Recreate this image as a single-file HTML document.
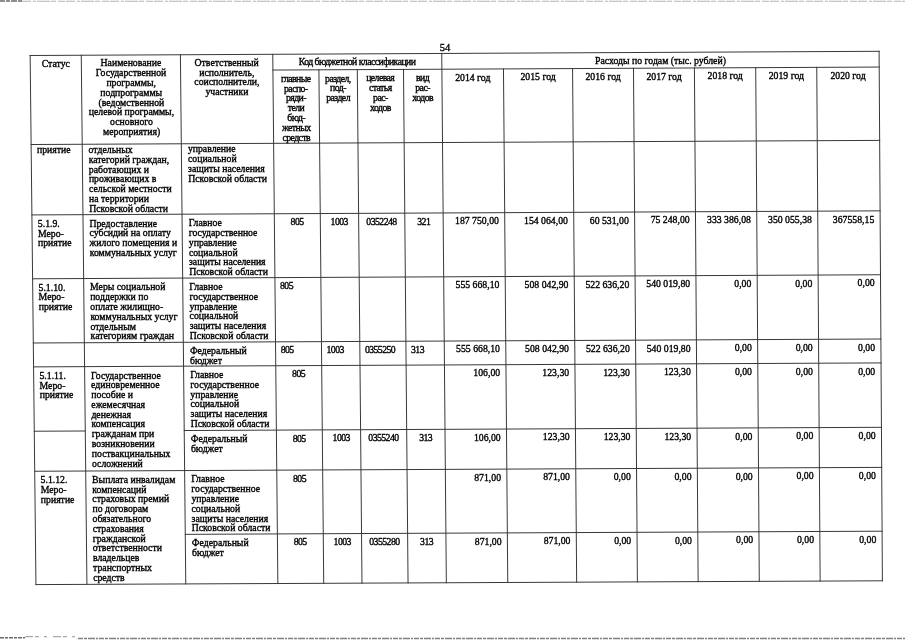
<!DOCTYPE html>
<html><head><meta charset="utf-8"><style>
html,body{margin:0;padding:0;background:#fff;}
body{width:905px;height:640px;overflow:hidden;position:relative;}
#pg{position:absolute;left:0;top:0;width:905px;height:640px;filter:grayscale(1);}
.t{position:absolute;font-family:"Liberation Serif",serif;color:#000;white-space:nowrap;-webkit-text-stroke:0.35px #000;}
svg{position:absolute;left:0;top:0;}
</style></head><body>
<svg width="905" height="640" style="position:absolute;left:0;top:0">
<line x1="0" y1="1.0" x2="22" y2="1.0" stroke="#6a6a6a" stroke-width="1.4" stroke-dasharray="5 1 4 1 6 1"/>
<line x1="22" y1="1.2" x2="905" y2="1.2" stroke="#b4b4b4" stroke-width="1.1" stroke-dasharray="9 2 3 1 13 1 5 2 7 1"/>
<line x1="0" y1="637.8" x2="25" y2="637.8" stroke="#6a6a6a" stroke-width="1.4" stroke-dasharray="4 1 3 1"/>
<line x1="25" y1="636.6" x2="78" y2="636.6" stroke="#aaa" stroke-width="1.1" stroke-dasharray="8 2 4 5 3 6"/>
<line x1="78" y1="638.5" x2="905" y2="638.5" stroke="#808080" stroke-width="1.5" stroke-dasharray="5 1 3 1 7 1 2 1"/>
</svg>
<div id="pg">
<svg width="905" height="640"><g stroke="#383838" stroke-width="1.0" stroke-linecap="square"><line x1="30.15" y1="55.50" x2="879.10" y2="51.30"/><line x1="35.96" y1="584.60" x2="882.40" y2="580.80"/><line x1="30.15" y1="55.50" x2="35.96" y2="584.60"/><line x1="879.10" y1="51.30" x2="882.40" y2="580.80"/><line x1="272.92" y1="70.05" x2="879.20" y2="67.06"/><line x1="31.13" y1="144.52" x2="879.66" y2="140.39"/><line x1="31.90" y1="214.93" x2="880.09" y2="210.85"/><line x1="32.60" y1="278.78" x2="880.49" y2="274.75"/><line x1="33.30" y1="342.99" x2="880.89" y2="339.01"/><line x1="33.57" y1="366.88" x2="881.04" y2="362.91"/><line x1="34.71" y1="471.26" x2="881.70" y2="467.38"/><line x1="34.27" y1="431.22" x2="85.28" y2="430.99"/><line x1="184.22" y1="430.53" x2="881.45" y2="427.31"/><line x1="185.27" y1="534.35" x2="882.09" y2="531.19"/><line x1="81.26" y1="55.25" x2="86.92" y2="584.37"/><line x1="180.41" y1="54.76" x2="185.77" y2="583.93"/><line x1="272.77" y1="54.30" x2="277.86" y2="583.51"/><line x1="441.74" y1="53.46" x2="446.34" y2="582.76"/><line x1="318.91" y1="69.82" x2="323.72" y2="583.31"/><line x1="357.30" y1="69.63" x2="361.99" y2="583.14"/><line x1="403.49" y1="69.40" x2="408.05" y2="582.93"/><line x1="503.48" y1="68.91" x2="507.76" y2="582.48"/><line x1="572.58" y1="68.57" x2="576.66" y2="582.17"/><line x1="633.49" y1="68.27" x2="637.40" y2="581.90"/><line x1="694.41" y1="67.97" x2="698.14" y2="581.63"/><line x1="755.73" y1="67.67" x2="759.29" y2="581.35"/><line x1="816.76" y1="67.37" x2="820.14" y2="581.08"/></g></svg>
<div class="t" style="top:59.02px;font-size:9.75px;line-height:9.8px;left:-44.17px;width:200px;text-align:center;">Статус</div><div class="t" style="top:58.24px;font-size:9.75px;line-height:9.8px;left:30.95px;width:200px;text-align:center;">Наименование</div><div class="t" style="top:68.07px;font-size:9.75px;line-height:9.8px;left:31.05px;width:200px;text-align:center;">Государственной</div><div class="t" style="top:77.90px;font-size:9.75px;line-height:9.8px;left:31.15px;width:200px;text-align:center;">программы,</div><div class="t" style="top:87.73px;font-size:9.75px;line-height:9.8px;left:31.26px;width:200px;text-align:center;">подпрограммы</div><div class="t" style="top:97.55px;font-size:9.75px;line-height:9.8px;left:31.36px;width:200px;text-align:center;">(ведомственной</div><div class="t" style="top:107.37px;font-size:9.75px;line-height:9.8px;left:31.46px;width:200px;text-align:center;">целевой программы,</div><div class="t" style="top:117.20px;font-size:9.75px;line-height:9.8px;left:31.56px;width:200px;text-align:center;">основного</div><div class="t" style="top:127.02px;font-size:9.75px;line-height:9.8px;left:31.67px;width:200px;text-align:center;">мероприятия)</div><div class="t" style="top:57.77px;font-size:9.75px;line-height:9.8px;left:126.70px;width:200px;text-align:center;">Ответственный</div><div class="t" style="top:67.60px;font-size:9.75px;line-height:9.8px;left:126.80px;width:200px;text-align:center;">исполнитель,</div><div class="t" style="top:77.43px;font-size:9.75px;line-height:9.8px;left:126.89px;width:200px;text-align:center;">соисполнители,</div><div class="t" style="top:87.26px;font-size:9.75px;line-height:9.8px;left:126.99px;width:200px;text-align:center;">участники</div><div class="t" style="top:57.13px;font-size:9.75px;line-height:9.8px;letter-spacing:-0.55px;left:257.35px;width:200px;text-align:center;text-indent:-0.55px;">Код бюджетной классификации</div><div class="t" style="top:73.78px;font-size:9.75px;line-height:9.8px;letter-spacing:-0.55px;left:196.03px;width:200px;text-align:center;text-indent:-0.55px;">главные</div><div class="t" style="top:83.61px;font-size:9.75px;line-height:9.8px;letter-spacing:-0.55px;left:196.12px;width:200px;text-align:center;text-indent:-0.55px;">распо-</div><div class="t" style="top:93.43px;font-size:9.75px;line-height:9.8px;letter-spacing:-0.55px;left:196.21px;width:200px;text-align:center;text-indent:-0.55px;">ряди-</div><div class="t" style="top:103.26px;font-size:9.75px;line-height:9.8px;letter-spacing:-0.55px;left:196.31px;width:200px;text-align:center;text-indent:-0.55px;">тели</div><div class="t" style="top:113.08px;font-size:9.75px;line-height:9.8px;letter-spacing:-0.55px;left:196.40px;width:200px;text-align:center;text-indent:-0.55px;">бюд-</div><div class="t" style="top:122.91px;font-size:9.75px;line-height:9.8px;letter-spacing:-0.55px;left:196.49px;width:200px;text-align:center;text-indent:-0.55px;">жетных</div><div class="t" style="top:132.73px;font-size:9.75px;line-height:9.8px;letter-spacing:-0.55px;left:196.59px;width:200px;text-align:center;text-indent:-0.55px;">средств</div><div class="t" style="top:73.57px;font-size:9.75px;line-height:9.8px;letter-spacing:-0.55px;left:238.21px;width:200px;text-align:center;text-indent:-0.55px;">раздел,</div><div class="t" style="top:83.40px;font-size:9.75px;line-height:9.8px;letter-spacing:-0.55px;left:238.30px;width:200px;text-align:center;text-indent:-0.55px;">под-</div><div class="t" style="top:93.23px;font-size:9.75px;line-height:9.8px;letter-spacing:-0.55px;left:238.39px;width:200px;text-align:center;text-indent:-0.55px;">раздел</div><div class="t" style="top:73.36px;font-size:9.75px;line-height:9.8px;letter-spacing:-0.55px;left:280.50px;width:200px;text-align:center;text-indent:-0.55px;">целевая</div><div class="t" style="top:83.19px;font-size:9.75px;line-height:9.8px;letter-spacing:-0.55px;left:280.58px;width:200px;text-align:center;text-indent:-0.55px;">статья</div><div class="t" style="top:93.02px;font-size:9.75px;line-height:9.8px;letter-spacing:-0.55px;left:280.67px;width:200px;text-align:center;text-indent:-0.55px;">рас-</div><div class="t" style="top:102.85px;font-size:9.75px;line-height:9.8px;letter-spacing:-0.55px;left:280.76px;width:200px;text-align:center;text-indent:-0.55px;">ходов</div><div class="t" style="top:73.15px;font-size:9.75px;line-height:9.8px;letter-spacing:-0.55px;left:322.79px;width:200px;text-align:center;text-indent:-0.55px;">вид</div><div class="t" style="top:82.98px;font-size:9.75px;line-height:9.8px;letter-spacing:-0.55px;left:322.87px;width:200px;text-align:center;text-indent:-0.55px;">рас-</div><div class="t" style="top:92.81px;font-size:9.75px;line-height:9.8px;letter-spacing:-0.55px;left:322.96px;width:200px;text-align:center;text-indent:-0.55px;">ходов</div><div class="t" style="top:55.73px;font-size:9.75px;line-height:9.8px;left:560.46px;width:200px;text-align:center;">Расходы по годам (тыс. рублей)</div><div class="t" style="top:72.61px;font-size:9.75px;line-height:9.8px;left:372.77px;width:200px;text-align:center;">2014 год</div><div class="t" style="top:72.29px;font-size:9.75px;line-height:9.8px;left:438.12px;width:200px;text-align:center;">2015 год</div><div class="t" style="top:71.97px;font-size:9.75px;line-height:9.8px;left:503.12px;width:200px;text-align:center;">2016 год</div><div class="t" style="top:71.67px;font-size:9.75px;line-height:9.8px;left:564.03px;width:200px;text-align:center;">2017 год</div><div class="t" style="top:71.36px;font-size:9.75px;line-height:9.8px;left:625.15px;width:200px;text-align:center;">2018 год</div><div class="t" style="top:71.06px;font-size:9.75px;line-height:9.8px;left:686.32px;width:200px;text-align:center;">2019 год</div><div class="t" style="top:70.76px;font-size:9.75px;line-height:9.8px;left:748.05px;width:200px;text-align:center;">2020 год</div><div class="t" style="top:42.72px;font-size:10.5px;line-height:9.8px;left:439.82px;">54</div><div class="t" style="top:145.22px;font-size:9.75px;line-height:9.8px;left:37.01px;">приятие</div><div class="t" style="top:144.97px;font-size:9.75px;line-height:9.8px;left:88.60px;">отдельных</div><div class="t" style="top:154.78px;font-size:9.75px;line-height:9.8px;left:88.70px;">категорий граждан,</div><div class="t" style="top:164.60px;font-size:9.75px;line-height:9.8px;left:88.81px;">работающих и</div><div class="t" style="top:174.42px;font-size:9.75px;line-height:9.8px;left:88.91px;">проживающих в</div><div class="t" style="top:184.23px;font-size:9.75px;line-height:9.8px;left:89.02px;">сельской местности</div><div class="t" style="top:194.05px;font-size:9.75px;line-height:9.8px;left:89.12px;">на территории</div><div class="t" style="top:203.86px;font-size:9.75px;line-height:9.8px;left:89.23px;">Псковской области</div><div class="t" style="top:144.48px;font-size:9.75px;line-height:9.8px;left:187.89px;">управление</div><div class="t" style="top:154.30px;font-size:9.75px;line-height:9.8px;left:187.99px;">социальной</div><div class="t" style="top:164.12px;font-size:9.75px;line-height:9.8px;left:188.09px;">защиты населения</div><div class="t" style="top:173.94px;font-size:9.75px;line-height:9.8px;left:188.19px;">Псковской области</div><div class="t" style="top:218.82px;font-size:9.75px;line-height:9.8px;left:37.82px;">5.1.9.</div><div class="t" style="top:228.63px;font-size:9.75px;line-height:9.8px;left:37.93px;">Меро-</div><div class="t" style="top:238.44px;font-size:9.75px;line-height:9.8px;left:38.03px;">приятие</div><div class="t" style="top:218.58px;font-size:9.75px;line-height:9.8px;left:89.38px;">Предоставление</div><div class="t" style="top:228.39px;font-size:9.75px;line-height:9.8px;left:89.49px;">субсидий на оплату</div><div class="t" style="top:238.20px;font-size:9.75px;line-height:9.8px;left:89.59px;">жилого помещения и</div><div class="t" style="top:248.00px;font-size:9.75px;line-height:9.8px;left:89.70px;">коммунальных услуг</div><div class="t" style="top:218.10px;font-size:9.75px;line-height:9.8px;left:188.63px;">Главное</div><div class="t" style="top:227.91px;font-size:9.75px;line-height:9.8px;left:188.73px;">государственное</div><div class="t" style="top:237.72px;font-size:9.75px;line-height:9.8px;left:188.83px;">управление</div><div class="t" style="top:247.53px;font-size:9.75px;line-height:9.8px;left:188.93px;">социальной</div><div class="t" style="top:257.34px;font-size:9.75px;line-height:9.8px;left:189.03px;">защиты населения</div><div class="t" style="top:267.14px;font-size:9.75px;line-height:9.8px;left:189.13px;">Псковской области</div><div class="t" style="top:217.28px;font-size:9.75px;line-height:9.8px;letter-spacing:-0.55px;left:197.39px;width:200px;text-align:center;text-indent:-0.55px;">805</div><div class="t" style="top:217.07px;font-size:9.75px;line-height:9.8px;letter-spacing:-0.55px;left:239.54px;width:200px;text-align:center;text-indent:-0.55px;">1003</div><div class="t" style="top:216.87px;font-size:9.75px;line-height:9.8px;letter-spacing:-0.55px;left:281.79px;width:200px;text-align:center;text-indent:-0.55px;">0352248</div><div class="t" style="top:216.67px;font-size:9.75px;line-height:9.8px;letter-spacing:-0.55px;left:324.05px;width:200px;text-align:center;text-indent:-0.55px;">321</div><div class="t" style="top:216.31px;font-size:9.75px;line-height:9.8px;right:406.12px;text-align:right;">187 750,00</div><div class="t" style="top:215.98px;font-size:9.75px;line-height:9.8px;right:337.08px;text-align:right;">154 064,00</div><div class="t" style="top:215.69px;font-size:9.75px;line-height:9.8px;right:276.22px;text-align:right;">60 531,00</div><div class="t" style="top:215.39px;font-size:9.75px;line-height:9.8px;right:215.36px;text-align:right;">75 248,00</div><div class="t" style="top:215.10px;font-size:9.75px;line-height:9.8px;right:154.09px;text-align:right;">333 386,08</div><div class="t" style="top:214.81px;font-size:9.75px;line-height:9.8px;right:93.11px;text-align:right;">350 055,38</div><div class="t" style="top:214.51px;font-size:9.75px;line-height:9.8px;right:30.73px;text-align:right;">367558,15</div><div class="t" style="top:282.67px;font-size:9.75px;line-height:9.8px;left:38.52px;">5.1.10.</div><div class="t" style="top:292.47px;font-size:9.75px;line-height:9.8px;left:38.62px;">Меро-</div><div class="t" style="top:302.27px;font-size:9.75px;line-height:9.8px;left:38.73px;">приятие</div><div class="t" style="top:282.42px;font-size:9.75px;line-height:9.8px;left:90.06px;">Меры социальной</div><div class="t" style="top:292.23px;font-size:9.75px;line-height:9.8px;left:90.17px;">поддержки по</div><div class="t" style="top:302.03px;font-size:9.75px;line-height:9.8px;left:90.27px;">оплате жилищно-</div><div class="t" style="top:311.83px;font-size:9.75px;line-height:9.8px;left:90.38px;">коммунальных услуг</div><div class="t" style="top:321.63px;font-size:9.75px;line-height:9.8px;left:90.48px;">отдельным</div><div class="t" style="top:331.43px;font-size:9.75px;line-height:9.8px;left:90.59px;">категориям граждан</div><div class="t" style="top:281.95px;font-size:9.75px;line-height:9.8px;left:189.28px;">Главное</div><div class="t" style="top:291.76px;font-size:9.75px;line-height:9.8px;left:189.38px;">государственное</div><div class="t" style="top:301.56px;font-size:9.75px;line-height:9.8px;left:189.48px;">управление</div><div class="t" style="top:311.36px;font-size:9.75px;line-height:9.8px;left:189.58px;">социальной</div><div class="t" style="top:321.16px;font-size:9.75px;line-height:9.8px;left:189.68px;">защиты населения</div><div class="t" style="top:330.96px;font-size:9.75px;line-height:9.8px;left:189.77px;">Псковской области</div><div class="t" style="top:281.22px;font-size:9.75px;line-height:9.8px;letter-spacing:-0.55px;left:280.02px;">805</div><div class="t" style="top:280.18px;font-size:9.75px;line-height:9.8px;right:405.59px;text-align:right;">555 668,10</div><div class="t" style="top:279.85px;font-size:9.75px;line-height:9.8px;right:336.57px;text-align:right;">508 042,90</div><div class="t" style="top:279.56px;font-size:9.75px;line-height:9.8px;right:275.74px;text-align:right;">522 636,20</div><div class="t" style="top:279.28px;font-size:9.75px;line-height:9.8px;right:214.89px;text-align:right;">540 019,80</div><div class="t" style="top:278.99px;font-size:9.75px;line-height:9.8px;right:153.65px;text-align:right;">0,00</div><div class="t" style="top:278.70px;font-size:9.75px;line-height:9.8px;right:92.69px;text-align:right;">0,00</div><div class="t" style="top:278.40px;font-size:9.75px;line-height:9.8px;right:30.33px;text-align:right;">0,00</div><div class="t" style="top:346.16px;font-size:9.75px;line-height:9.8px;left:189.93px;">Федеральный</div><div class="t" style="top:355.96px;font-size:9.75px;line-height:9.8px;left:190.03px;">бюджет</div><div class="t" style="top:345.43px;font-size:9.75px;line-height:9.8px;letter-spacing:-0.55px;left:280.64px;">805</div><div class="t" style="top:345.22px;font-size:9.75px;line-height:9.8px;letter-spacing:-0.55px;left:326.55px;">1003</div><div class="t" style="top:345.04px;font-size:9.75px;line-height:9.8px;letter-spacing:-0.55px;left:364.88px;">0355250</div><div class="t" style="top:344.82px;font-size:9.75px;line-height:9.8px;letter-spacing:-0.55px;left:411.00px;">313</div><div class="t" style="top:344.41px;font-size:9.75px;line-height:9.8px;right:405.05px;text-align:right;">555 668,10</div><div class="t" style="top:344.08px;font-size:9.75px;line-height:9.8px;right:336.06px;text-align:right;">508 042,90</div><div class="t" style="top:343.80px;font-size:9.75px;line-height:9.8px;right:275.24px;text-align:right;">522 636,20</div><div class="t" style="top:343.51px;font-size:9.75px;line-height:9.8px;right:214.42px;text-align:right;">540 019,80</div><div class="t" style="top:343.23px;font-size:9.75px;line-height:9.8px;right:153.20px;text-align:right;">0,00</div><div class="t" style="top:342.94px;font-size:9.75px;line-height:9.8px;right:92.27px;text-align:right;">0,00</div><div class="t" style="top:342.65px;font-size:9.75px;line-height:9.8px;right:29.93px;text-align:right;">0,00</div><div class="t" style="top:370.75px;font-size:9.75px;line-height:9.8px;left:39.48px;">5.1.11.</div><div class="t" style="top:380.55px;font-size:9.75px;line-height:9.8px;left:39.59px;">Меро-</div><div class="t" style="top:390.34px;font-size:9.75px;line-height:9.8px;left:39.70px;">приятие</div><div class="t" style="top:370.51px;font-size:9.75px;line-height:9.8px;left:91.00px;">Государственное</div><div class="t" style="top:380.31px;font-size:9.75px;line-height:9.8px;left:91.11px;">единовременное</div><div class="t" style="top:390.10px;font-size:9.75px;line-height:9.8px;left:91.21px;">пособие и</div><div class="t" style="top:399.89px;font-size:9.75px;line-height:9.8px;left:91.32px;">ежемесячная</div><div class="t" style="top:409.68px;font-size:9.75px;line-height:9.8px;left:91.42px;">денежная</div><div class="t" style="top:419.47px;font-size:9.75px;line-height:9.8px;left:91.52px;">компенсация</div><div class="t" style="top:429.26px;font-size:9.75px;line-height:9.8px;left:91.63px;">гражданам при</div><div class="t" style="top:439.05px;font-size:9.75px;line-height:9.8px;left:91.73px;">возникновении</div><div class="t" style="top:448.83px;font-size:9.75px;line-height:9.8px;left:91.84px;">поствакцинальных</div><div class="t" style="top:458.62px;font-size:9.75px;line-height:9.8px;left:91.94px;">осложнений</div><div class="t" style="top:370.05px;font-size:9.75px;line-height:9.8px;left:190.17px;">Главное</div><div class="t" style="top:379.84px;font-size:9.75px;line-height:9.8px;left:190.27px;">государственное</div><div class="t" style="top:389.64px;font-size:9.75px;line-height:9.8px;left:190.37px;">управление</div><div class="t" style="top:399.43px;font-size:9.75px;line-height:9.8px;left:190.47px;">социальной</div><div class="t" style="top:409.22px;font-size:9.75px;line-height:9.8px;left:190.57px;">защиты населения</div><div class="t" style="top:419.01px;font-size:9.75px;line-height:9.8px;left:190.66px;">Псковской области</div><div class="t" style="top:369.24px;font-size:9.75px;line-height:9.8px;letter-spacing:-0.55px;left:198.83px;width:200px;text-align:center;text-indent:-0.55px;">805</div><div class="t" style="top:368.30px;font-size:9.75px;line-height:9.8px;right:404.85px;text-align:right;">106,00</div><div class="t" style="top:367.98px;font-size:9.75px;line-height:9.8px;right:335.87px;text-align:right;">123,30</div><div class="t" style="top:367.70px;font-size:9.75px;line-height:9.8px;right:275.06px;text-align:right;">123,30</div><div class="t" style="top:367.41px;font-size:9.75px;line-height:9.8px;right:214.25px;text-align:right;">123,30</div><div class="t" style="top:367.13px;font-size:9.75px;line-height:9.8px;right:153.03px;text-align:right;">0,00</div><div class="t" style="top:366.84px;font-size:9.75px;line-height:9.8px;right:92.11px;text-align:right;">0,00</div><div class="t" style="top:366.55px;font-size:9.75px;line-height:9.8px;right:29.78px;text-align:right;">0,00</div><div class="t" style="top:434.39px;font-size:9.75px;line-height:9.8px;left:190.82px;">Федеральный</div><div class="t" style="top:444.18px;font-size:9.75px;line-height:9.8px;left:190.92px;">бюджет</div><div class="t" style="top:433.59px;font-size:9.75px;line-height:9.8px;letter-spacing:-0.55px;left:199.44px;width:200px;text-align:center;text-indent:-0.55px;">805</div><div class="t" style="top:433.40px;font-size:9.75px;line-height:9.8px;letter-spacing:-0.55px;left:241.54px;width:200px;text-align:center;text-indent:-0.55px;">1003</div><div class="t" style="top:433.20px;font-size:9.75px;line-height:9.8px;letter-spacing:-0.55px;left:283.74px;width:200px;text-align:center;text-indent:-0.55px;">0355240</div><div class="t" style="top:433.01px;font-size:9.75px;line-height:9.8px;letter-spacing:-0.55px;left:325.95px;width:200px;text-align:center;text-indent:-0.55px;">313</div><div class="t" style="top:432.67px;font-size:9.75px;line-height:9.8px;right:404.31px;text-align:right;">106,00</div><div class="t" style="top:432.35px;font-size:9.75px;line-height:9.8px;right:335.35px;text-align:right;">123,30</div><div class="t" style="top:432.07px;font-size:9.75px;line-height:9.8px;right:274.57px;text-align:right;">123,30</div><div class="t" style="top:431.79px;font-size:9.75px;line-height:9.8px;right:213.78px;text-align:right;">123,30</div><div class="t" style="top:431.50px;font-size:9.75px;line-height:9.8px;right:152.58px;text-align:right;">0,00</div><div class="t" style="top:431.22px;font-size:9.75px;line-height:9.8px;right:91.68px;text-align:right;">0,00</div><div class="t" style="top:430.94px;font-size:9.75px;line-height:9.8px;right:29.37px;text-align:right;">0,00</div><div class="t" style="top:475.12px;font-size:9.75px;line-height:9.8px;left:40.62px;">5.1.12.</div><div class="t" style="top:484.91px;font-size:9.75px;line-height:9.8px;left:40.73px;">Меро-</div><div class="t" style="top:494.69px;font-size:9.75px;line-height:9.8px;left:40.84px;">приятие</div><div class="t" style="top:474.89px;font-size:9.75px;line-height:9.8px;left:92.12px;">Выплата инвалидам</div><div class="t" style="top:484.67px;font-size:9.75px;line-height:9.8px;left:92.22px;">компенсаций</div><div class="t" style="top:494.45px;font-size:9.75px;line-height:9.8px;left:92.32px;">страховых премий</div><div class="t" style="top:504.23px;font-size:9.75px;line-height:9.8px;left:92.43px;">по договорам</div><div class="t" style="top:514.01px;font-size:9.75px;line-height:9.8px;left:92.53px;">обязательного</div><div class="t" style="top:523.79px;font-size:9.75px;line-height:9.8px;left:92.64px;">страхования</div><div class="t" style="top:533.57px;font-size:9.75px;line-height:9.8px;left:92.74px;">гражданской</div><div class="t" style="top:543.34px;font-size:9.75px;line-height:9.8px;left:92.84px;">ответственности</div><div class="t" style="top:553.12px;font-size:9.75px;line-height:9.8px;left:92.95px;">владельцев</div><div class="t" style="top:562.89px;font-size:9.75px;line-height:9.8px;left:93.05px;">транспортных</div><div class="t" style="top:572.66px;font-size:9.75px;line-height:9.8px;left:93.16px;">средств</div><div class="t" style="top:474.44px;font-size:9.75px;line-height:9.8px;left:191.22px;">Главное</div><div class="t" style="top:484.22px;font-size:9.75px;line-height:9.8px;left:191.32px;">государственное</div><div class="t" style="top:494.00px;font-size:9.75px;line-height:9.8px;left:191.42px;">управление</div><div class="t" style="top:503.78px;font-size:9.75px;line-height:9.8px;left:191.52px;">социальной</div><div class="t" style="top:513.56px;font-size:9.75px;line-height:9.8px;left:191.62px;">защиты населения</div><div class="t" style="top:523.34px;font-size:9.75px;line-height:9.8px;left:191.72px;">Псковской области</div><div class="t" style="top:473.64px;font-size:9.75px;line-height:9.8px;letter-spacing:-0.55px;left:199.82px;width:200px;text-align:center;text-indent:-0.55px;">805</div><div class="t" style="top:472.72px;font-size:9.75px;line-height:9.8px;right:403.98px;text-align:right;">871,00</div><div class="t" style="top:472.40px;font-size:9.75px;line-height:9.8px;right:335.03px;text-align:right;">871,00</div><div class="t" style="top:472.12px;font-size:9.75px;line-height:9.8px;right:274.26px;text-align:right;">0,00</div><div class="t" style="top:471.85px;font-size:9.75px;line-height:9.8px;right:213.49px;text-align:right;">0,00</div><div class="t" style="top:471.57px;font-size:9.75px;line-height:9.8px;right:152.31px;text-align:right;">0,00</div><div class="t" style="top:471.29px;font-size:9.75px;line-height:9.8px;right:91.42px;text-align:right;">0,00</div><div class="t" style="top:471.00px;font-size:9.75px;line-height:9.8px;right:29.12px;text-align:right;">0,00</div><div class="t" style="top:538.21px;font-size:9.75px;line-height:9.8px;left:191.87px;">Федеральный</div><div class="t" style="top:547.98px;font-size:9.75px;line-height:9.8px;left:191.97px;">бюджет</div><div class="t" style="top:537.42px;font-size:9.75px;line-height:9.8px;letter-spacing:-0.55px;left:200.43px;width:200px;text-align:center;text-indent:-0.55px;">805</div><div class="t" style="top:537.22px;font-size:9.75px;line-height:9.8px;letter-spacing:-0.55px;left:242.50px;width:200px;text-align:center;text-indent:-0.55px;">1003</div><div class="t" style="top:537.03px;font-size:9.75px;line-height:9.8px;letter-spacing:-0.55px;left:284.68px;width:200px;text-align:center;text-indent:-0.55px;">0355280</div><div class="t" style="top:536.84px;font-size:9.75px;line-height:9.8px;letter-spacing:-0.55px;left:326.86px;width:200px;text-align:center;text-indent:-0.55px;">313</div><div class="t" style="top:536.51px;font-size:9.75px;line-height:9.8px;right:403.44px;text-align:right;">871,00</div><div class="t" style="top:536.19px;font-size:9.75px;line-height:9.8px;right:334.52px;text-align:right;">871,00</div><div class="t" style="top:535.92px;font-size:9.75px;line-height:9.8px;right:273.78px;text-align:right;">0,00</div><div class="t" style="top:535.64px;font-size:9.75px;line-height:9.8px;right:213.02px;text-align:right;">0,00</div><div class="t" style="top:535.37px;font-size:9.75px;line-height:9.8px;right:151.86px;text-align:right;">0,00</div><div class="t" style="top:535.09px;font-size:9.75px;line-height:9.8px;right:90.99px;text-align:right;">0,00</div><div class="t" style="top:534.81px;font-size:9.75px;line-height:9.8px;right:28.72px;text-align:right;">0,00</div>
</div>
</body></html>
